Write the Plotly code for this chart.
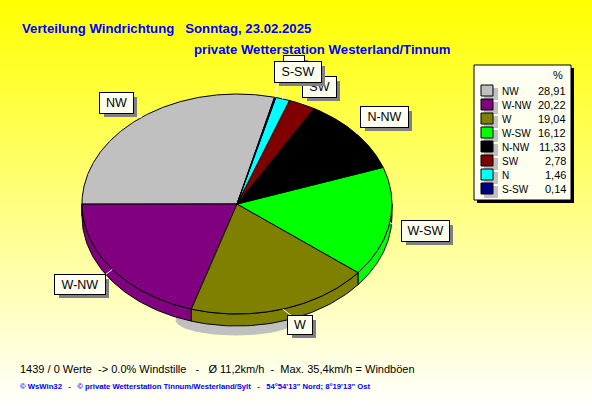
import numpy as np
import plotly.graph_objects as go

categories = ["NW", "W-NW", "W", "W-SW", "N-NW", "SW", "N", "S-SW"]
values = [28.91, 20.22, 19.04, 16.12, 11.33, 2.78, 1.46, 0.14]
value_labels = ["28,91", "20,22", "19,04", "16,12", "11,33", "2,78", "1,46", "0,14"]
colors = ["#C0C0C0", "#800080", "#808000", "#00FF00", "#000000", "#800000", "#00FFFF", "#000080"]

W, H = 592, 407
CX, CY, RX, RY, DEPTH = 237, 204, 155, 110, 12
START = 76.0
CREAM = "#FFFFF0"
FONT = "Liberation Sans"
BLUE = "#0000FF"

boxes = {
    "NW": (100, 93, 133, 113),
    "W-NW": (55, 275, 105, 294),
    "W": (288, 316, 312, 334),
    "W-SW": (402, 221, 449, 241),
    "N-NW": (361, 107, 408, 127),
    "SW": (303, 77, 336, 97),
    "N": (284, 56, 304, 76),
    "S-SW": (275, 62, 321, 82),
}
anchors = {
    "NW": (126, 113), "W-NW": (105, 275), "W": (292, 316), "W-SW": (402, 231),
    "N-NW": (365, 127), "SW": (308, 97), "N": (285, 76), "S-SW": (278, 82),
}

fig = go.Figure()
fig.add_trace(go.Heatmap(
    z=np.tile(np.linspace(0, 1, H).reshape(-1, 1), (1, 2)), x=[0, W], y=np.arange(H) + 0.5,
    colorscale=[[0, "#FFFF00"], [1, "#FFFFFF"]], showscale=False, hoverinfo="skip", xaxis="x", yaxis="y",
))
th = np.radians(np.linspace(0, 360, 181))
fig.add_trace(go.Scatter(x=236 + 60 * np.cos(th), y=320 + 15 * np.sin(th), fill="toself", mode="lines",
                         fillcolor="#C0C0C0", line=dict(color="#C0C0C0", width=1), hoverinfo="skip"))

fracs = np.array(values) / sum(values) * 360
starts = START + np.concatenate([[0], np.cumsum(fracs)[:-1]])
ends = starts + fracs


def rim(a):
    r = np.radians(a)
    return CX + RX * np.cos(r), CY - RY * np.sin(r)


for a0, a1, c in zip(starts, ends, colors):
    for k in (0, 360):
        lo, hi = max(a0 + k, 180), min(a1 + k, 360)
        if lo < hi:
            t = np.linspace(lo, hi, 60)
            x, y = rim(t)
            fig.add_trace(go.Scatter(
                x=np.r_[x, x[::-1], x[0]], y=np.r_[y, y[::-1] + DEPTH, y[0]],
                fill="toself", mode="lines", fillcolor=c, line=dict(color="#000000", width=1), hoverinfo="skip"))

for a0, a1, c in zip(starts, ends, colors):
    t = np.linspace(a0, a1, max(3, int(a1 - a0) * 2))
    x, y = rim(t)
    fig.add_trace(go.Scatter(
        x=np.r_[CX, x, CX], y=np.r_[CY, y, CY], fill="toself", mode="lines",
        fillcolor=c, line=dict(color="#000000", width=1), hoverinfo="skip"))

for name, a0, a1 in zip(categories, starts, ends):
    mx, my = rim((a0 + a1) / 2)
    ax, ay = anchors[name]
    fig.add_trace(go.Scatter(x=[mx, ax], y=[my, ay], mode="lines",
                             line=dict(color="#FFFFFF", width=1), hoverinfo="skip"))

ann = []
shapes = []


def text(x, y, s, size=11, color="#000000", bold=False, anchor="left"):
    ann.append(dict(x=x, y=y, xref="x", yref="y", text=f"<b>{s}</b>" if bold else s, showarrow=False,
                    xanchor=anchor, yanchor="middle", align=anchor,
                    font=dict(family=FONT, size=size, color=color)))


text(20, 28, "Verteilung Windrichtung   Sonntag, 23.02.2025", 13.2, BLUE, True)
text(192, 49, "private Wetterstation Westerland/Tinnum", 13.2, BLUE, True)
text(18, 369, "1439 / 0 Werte  -&gt; 0.0% Windstille   -   Ø 11,2km/h  -  Max. 35,4km/h = Windböen", 11)
text(18, 386, "© WsWin32   -   © private Wetterstation Tinnum/Westerland/Sylt   -   54°54'13\" Nord; 8°19'13\" Ost", 7.7, BLUE, True)

for name in ["NW", "W-NW", "W", "W-SW", "N-NW", "SW", "N", "S-SW"]:
    l, t, r, b = boxes[name]
    for dx, fill, bw, label in ((4, "#808080", 0, " "), (0, CREAM, 1, name)):
        ann.append(dict(x=(l + r) / 2 + dx, y=(t + b) / 2 + dx, xref="x", yref="y", text=label, showarrow=False,
                        width=r - l, height=b - t, bgcolor=fill, borderwidth=bw, bordercolor="#000000", borderpad=0,
                        font=dict(family=FONT, size=12.5, color="#000000"), xanchor="center", yanchor="middle"))

shapes.append(dict(type="rect", x0=477, y0=68, x1=574, y1=203, fillcolor="#000000", line_width=0, layer="above"))
shapes.append(dict(type="rect", x0=474, y0=65, x1=571, y1=200, fillcolor=CREAM, line=dict(color="#000000", width=1), layer="above"))
text(551, 75, "%", 11)
for i, (n, v, c) in enumerate(zip(categories, value_labels, colors)):
    yc = 91 + 14 * i
    shapes.append(dict(type="rect", x0=484, y0=yc - 3, x1=498, y1=yc + 9, fillcolor="#C0C0C0", line_width=0, layer="above"))
    shapes.append(dict(type="rect", x0=481, y0=yc - 6, x1=493, y1=yc + 5, fillcolor=c, line=dict(color="#000000", width=1), layer="above"))
    text(500, yc, n, 10)
    text(568, yc, v, 11, anchor="right")

fig.update_layout(
    width=W, height=H, margin=dict(l=0, r=0, t=0, b=0), showlegend=False,
    paper_bgcolor="#FFFFFF", plot_bgcolor="#FFFFFF",
    xaxis=dict(range=[0, W], visible=False, fixedrange=True),
    yaxis=dict(range=[H, 0], visible=False, fixedrange=True),
    annotations=ann, shapes=shapes,
)
fig.write_html("out.html", config=dict(displayModeBar=False),
               post_script="document.body.style.margin='0';document.documentElement.style.overflow='hidden';")
